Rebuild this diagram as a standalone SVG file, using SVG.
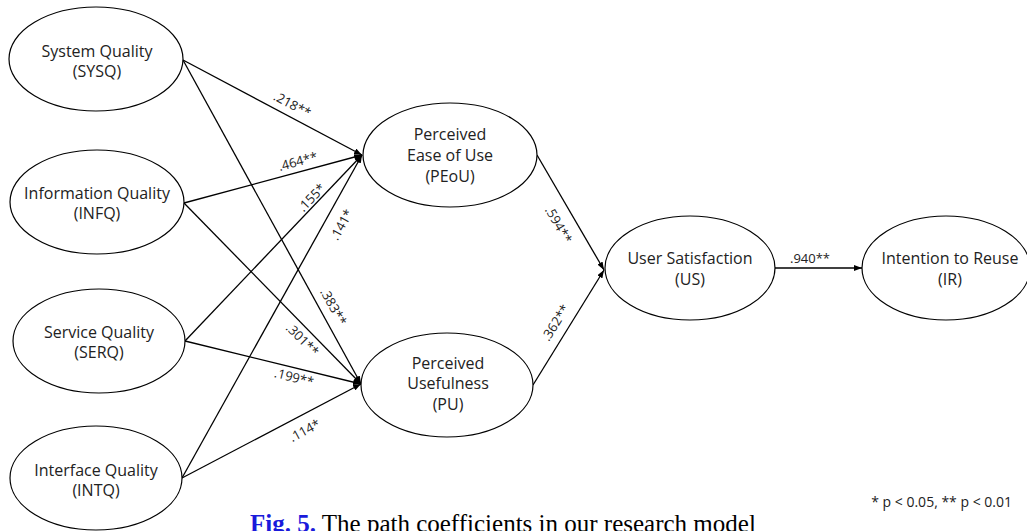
<svg xmlns="http://www.w3.org/2000/svg" width="1027" height="531" viewBox="0 0 1027 531">
  <style>
    .node ellipse { fill: #ffffff; stroke: #000000; stroke-width: 1.2; }
    .node text { font-family: "Open Sans", "Noto Sans", "DejaVu Sans", sans-serif; font-size: 16px; fill: #222222; text-anchor: middle; }
    .edge line { stroke: #000000; stroke-width: 1.3; marker-end: url(#arrow); }
    .coef { font-family: "Open Sans", "Noto Sans", "DejaVu Sans", sans-serif; font-size: 13px; fill: #222222; text-anchor: middle; }
    .note { font-family: "Open Sans", "Noto Sans", "DejaVu Sans", sans-serif; font-size: 14px; fill: #222222; text-anchor: end; }
    .caption { font-family: "Liberation Serif", "Times New Roman", serif; font-size: 25px; fill: #000000; }
    .figno { fill: #1a1adb; font-weight: bold; }
  </style>
  <defs>
    <marker id="arrow" markerUnits="userSpaceOnUse" markerWidth="8" markerHeight="6" refX="8" refY="3" orient="auto">
      <path d="M0,0 L8,3 L0,6 Z" fill="#000000"/>
    </marker>
  </defs>

  <rect width="1027" height="531" fill="#ffffff"/>

  <!-- structural paths -->
  <g id="connectors" class="edge">
    <line x1="183" y1="60" x2="362" y2="155"/>
    <line x1="184" y1="203" x2="362" y2="155"/>
    <line x1="185" y1="341" x2="362" y2="155"/>
    <line x1="182" y1="478" x2="362" y2="155"/>
    <line x1="183" y1="60" x2="361" y2="384"/>
    <line x1="184" y1="203" x2="361" y2="384"/>
    <line x1="185" y1="341" x2="361" y2="384"/>
    <line x1="182" y1="478" x2="361" y2="384"/>
    <line x1="537" y1="155" x2="604" y2="270"/>
    <line x1="533" y1="385" x2="604" y2="270"/>
    <line x1="775" y1="268" x2="862" y2="268"/>
  </g>

  <!-- path coefficients -->
  <g id="coefficients" class="coef">
    <text transform="translate(292,105) rotate(28)" y="4">.218**</text>
    <text transform="translate(298,162) rotate(-15)" y="4">.464**</text>
    <text transform="translate(312,198) rotate(-46)" y="4">.155*</text>
    <text transform="translate(342,225) rotate(-61)" y="4">.141*</text>
    <text transform="translate(333,307) rotate(61)" y="4">.383**</text>
    <text transform="translate(302,340) rotate(45)" y="4">.301**</text>
    <text transform="translate(294,378) rotate(14)" y="4">.199**</text>
    <text transform="translate(305,431) rotate(-28)" y="4">.114*</text>
    <text transform="translate(558,225) rotate(60)" y="4">.594**</text>
    <text transform="translate(556,323) rotate(-58)" y="4">.362**</text>
    <text x="810" y="263">.940**</text>
  </g>

  <!-- constructs -->
  <g id="SYSQ" class="node">
    <ellipse cx="96" cy="59" rx="87" ry="52"/>
    <text x="97" y="57">System Quality</text>
    <text x="97" y="77">(SYSQ)</text>
  </g>
  <g id="INFQ" class="node">
    <ellipse cx="97" cy="202" rx="87" ry="52"/>
    <text x="97" y="199">Information Quality</text>
    <text x="97" y="219">(INFQ)</text>
  </g>
  <g id="SERQ" class="node">
    <ellipse cx="99" cy="341" rx="86" ry="52"/>
    <text x="99" y="338">Service Quality</text>
    <text x="99" y="358">(SERQ)</text>
  </g>
  <g id="INTQ" class="node">
    <ellipse cx="96" cy="478" rx="86" ry="52"/>
    <text x="96" y="476">Interface Quality</text>
    <text x="96" y="496">(INTQ)</text>
  </g>
  <g id="PEoU" class="node">
    <ellipse cx="450" cy="155" rx="87" ry="52"/>
    <text x="450" y="140">Perceived</text>
    <text x="450" y="161">Ease of Use</text>
    <text x="450" y="182">(PEoU)</text>
  </g>
  <g id="PU" class="node">
    <ellipse cx="447" cy="385" rx="86" ry="52"/>
    <text x="448" y="369">Perceived</text>
    <text x="448" y="389">Usefulness</text>
    <text x="448" y="410">(PU)</text>
  </g>
  <g id="US" class="node">
    <ellipse cx="690" cy="268" rx="85" ry="52"/>
    <text x="690" y="264">User Satisfaction</text>
    <text x="690" y="285">(US)</text>
  </g>
  <g id="IR" class="node">
    <ellipse cx="946" cy="268" rx="84" ry="52"/>
    <text x="950" y="264">Intention to Reuse</text>
    <text x="950" y="285">(IR)</text>
  </g>

  <text class="note" x="1012" y="507">* p &lt; 0.05, ** p &lt; 0.01</text>

  <text class="caption" x="250" y="532"><tspan class="figno">Fig. 5.</tspan> The path coefficients in our research model</text>
</svg>
